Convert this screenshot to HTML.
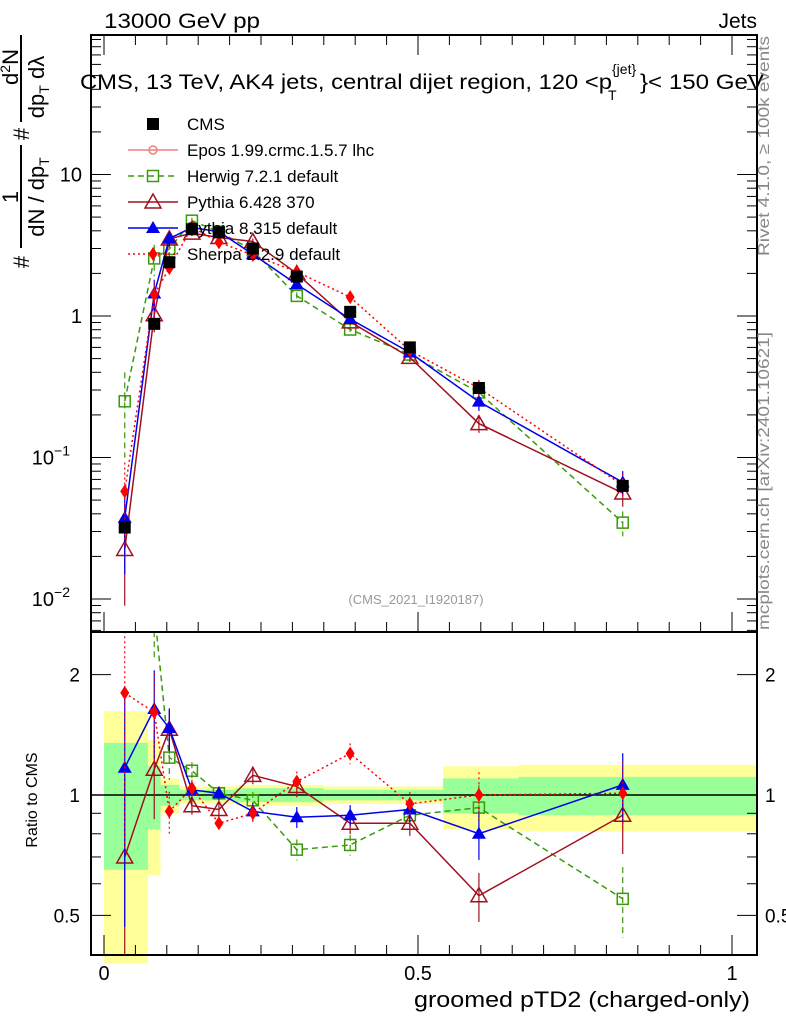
<!DOCTYPE html>
<html><head><meta charset="utf-8"><style>
body{margin:0;background:#fff}
svg{display:block;font-family:"Liberation Sans",sans-serif}
</style></head><body>
<svg id="c" width="786" height="1024" xmlns="http://www.w3.org/2000/svg">
<rect width="786" height="1024" fill="#fff"/>
<g id="bands"></g>
<g id="grid"></g>
<g id="series"></g>
<g id="axes"></g>
<text x="104" y="28" font-size="21" textLength="156" lengthAdjust="spacingAndGlyphs">13000 GeV pp</text>
<text x="757" y="28" font-size="21" text-anchor="end">Jets</text>
<g font-size="21">
<text x="80" y="89" textLength="532" lengthAdjust="spacingAndGlyphs">CMS, 13 TeV, AK4 jets, central dijet region, 120 &lt;p</text>
<text x="608" y="100" font-size="14">T</text>
<text x="612" y="74" font-size="14">{jet}</text>
<text x="640" y="89" textLength="124" lengthAdjust="spacingAndGlyphs">}&lt; 150 GeV</text>
</g>
<text x="416" y="604" font-size="13" fill="#999" text-anchor="middle">(CMS_2021_I1920187)</text>
<text transform="translate(769,256) rotate(-90)" font-size="16" fill="#888" textLength="220" lengthAdjust="spacingAndGlyphs">Rivet 4.1.0, ≥ 100k events</text>
<text transform="translate(769,630) rotate(-90)" font-size="16" fill="#888" textLength="298" lengthAdjust="spacingAndGlyphs">mcplots.cern.ch [arXiv:2401.10621]</text>
<text x="750" y="1007" font-size="22" text-anchor="end" textLength="336" lengthAdjust="spacingAndGlyphs">groomed pTD2 (charged-only)</text>
<text transform="translate(37,800) rotate(-90)" font-size="16" text-anchor="middle">Ratio to CMS</text>
<g font-size="22">
<line x1="21" y1="35" x2="21" y2="122" stroke="#000" stroke-width="2"/>
<line x1="21" y1="145" x2="21" y2="248" stroke="#000" stroke-width="2"/>
<text transform="translate(29,262) rotate(-90)" text-anchor="middle">#</text>
<text transform="translate(29,134) rotate(-90)" text-anchor="middle">#</text>
<text transform="translate(18,197) rotate(-90)" text-anchor="middle">1</text>
<text transform="translate(44,197) rotate(-90)" text-anchor="middle">dN / dp<tspan font-size="14" dy="5">T</tspan></text>
<text transform="translate(18,67) rotate(-90)" text-anchor="middle">d<tspan font-size="14" dy="-8">2</tspan><tspan dy="8">N</tspan></text>
<text transform="translate(44,87) rotate(-90)" text-anchor="middle">dp<tspan font-size="14" dy="5">T</tspan><tspan dy="-5">  dλ</tspan></text>
</g>
<g id="legend"></g>
</svg>
<script>
const binCenters=[0.033,0.080,0.104,0.140,0.183,0.237,0.307,0.392,0.487,0.597,0.826];
const binEdges=[0,0.07,0.09,0.12,0.16,0.21,0.27,0.35,0.44,0.54,0.66,1.04];
const cmsValues=[0.032,0.88,2.4,4.1,3.9,3.0,1.9,1.07,0.60,0.31,0.063];
const yellowBand=[0.62,0.37,0.10,0.05,0.05,0.06,0.06,0.05,0.05,0.18,0.19];
const greenBand=[0.35,0.18,0.06,0.03,0.03,0.04,0.04,0.03,0.03,0.10,0.11];
const herwigRatio=[7.8,2.9,1.24,1.15,1.01,0.97,0.73,0.75,0.89,0.93,0.55];
const pythia6Ratio=[0.70,1.16,1.46,0.94,0.92,1.12,1.05,0.85,0.85,0.56,0.89];
const pythia8Ratio=[1.17,1.64,1.47,1.03,1.01,0.91,0.88,0.89,0.92,0.80,1.06];
const sherpaRatio=[1.80,1.61,0.91,1.04,0.85,0.90,1.08,1.27,0.95,1.00,1.01];
const relErr=[0.6,0.25,0.12,0.05,0.04,0.05,0.06,0.06,0.07,0.14,0.2];
const mainTicks=[{v:10,l:"10"},{v:1,l:"1"},{v:0.1,l:"10",e:"−1"},{v:0.01,l:"10",e:"−2"}];
const ratioTicks=[0.5,1,2];
const xTicks=[0,0.5,1];

const NS="http://www.w3.org/2000/svg";
const L=91,R=757,T=35,M=632,B=955;
const xs=v=>104+628*v;
const ym=v=>316-141.5*Math.log10(v);
const yr=v=>795-400*Math.log10(v);
function el(tag,attrs,parent){const e=document.createElementNS(NS,tag);for(const k in attrs)e.setAttribute(k,attrs[k]);parent.appendChild(e);return e;}
const g=id=>document.getElementById(id);
const clipMain="url(#cm)",clipRatio="url(#cr)";
const defs=el("defs",{},g("c"));
el("rect",{x:L,y:T,width:R-L,height:M-T},el("clipPath",{id:"cm"},defs));
el("rect",{x:L,y:M,width:R-L,height:B-M},el("clipPath",{id:"cr"},defs));

binCenters.forEach((c,i)=>{
  const x0=xs(binEdges[i]),x1=Math.min(xs(binEdges[i+1]),R);
  const y=el("rect",{x:x0,y:yr(1+yellowBand[i]),width:x1-x0,height:yr(Math.max(1-yellowBand[i],0.3))-yr(1+yellowBand[i]),fill:"#ffff99"},g("bands"));
  
  
  const gr=el("rect",{x:x0,y:yr(1+greenBand[i]),width:x1-x0,height:yr(1-greenBand[i])-yr(1+greenBand[i]),fill:"#99ff99"},g("bands"));
  
  
});
el("line",{x1:L,y1:yr(1),x2:R,y2:yr(1),stroke:"#000","stroke-width":1.5},g("grid"));

const ax=g("axes");
el("rect",{x:L,y:T,width:R-L,height:M-T,fill:"none",stroke:"#000","stroke-width":2},ax);
el("rect",{x:L,y:M,width:R-L,height:B-M,fill:"none",stroke:"#000","stroke-width":2},ax);
for(let d=-3;d<=2;d++)for(let m=1;m<10;m++){const v=m*Math.pow(10,d);const y=ym(v);if(y<T||y>M)continue;const len=m==1?20:10;
  el("line",{x1:L,y1:y,x2:L+len,y2:y,stroke:"#000"},ax);el("line",{x1:R,y1:y,x2:R-len,y2:y,stroke:"#000"},ax);}
mainTicks.forEach(t=>{const tx=el("text",{x:82,y:ym(t.v)+7,"font-size":20,"text-anchor":"end"},ax);tx.textContent=t.l;
  
  
  if(t.e){tx.setAttribute("x",70);const s=el("tspan",{"font-size":14,dy:-9},tx);s.textContent=t.e;}});
[0.5,0.6,0.7,0.8,0.9,1,2].forEach(v=>{const y=yr(v);const len=(v==1||v==0.5||v==2)?20:10;
  el("line",{x1:L,y1:y,x2:L+len,y2:y,stroke:"#000"},ax);el("line",{x1:R,y1:y,x2:R-len,y2:y,stroke:"#000"},ax);});
ratioTicks.forEach(v=>{[[80,"end"],[765,"start"]].forEach(([x,a])=>{const t=el("text",{x:x,y:yr(v)+7,"font-size":19,"text-anchor":a},ax);t.textContent=v;
  
  });});
for(let i=0;i<=20;i++){const v=i*0.05;const x=xs(v);const len=i%10==0?20:10;
  el("line",{x1:x,y1:B,x2:x,y2:B-len,stroke:"#000"},ax);el("line",{x1:x,y1:T,x2:x,y2:T+len,stroke:"#000"},ax);el("line",{x1:x,y1:M,x2:x,y2:M-len,stroke:"#000"},ax);}
xTicks.forEach(v=>{const t=el("text",{x:xs(v),y:980,"font-size":20,"text-anchor":"middle"},ax);t.textContent=v;
  
  });

function marker(type,color,x,y,p){
  if(type=="sq") return el("rect",{x:x-5.5,y:y-5.5,width:11,height:11,fill:"none",stroke:color,"stroke-width":1.5},p);
  if(type=="fsq") return el("rect",{x:x-6,y:y-6,width:12,height:12,fill:color},p);
  if(type=="tri") return el("polygon",{points:`${x},${y-8} ${x-8},${y+6} ${x+8},${y+6}`,fill:"none",stroke:color,"stroke-width":1.5},p);
  if(type=="ftri") return el("polygon",{points:`${x},${y-7} ${x-7},${y+5} ${x+7},${y+5}`,fill:color},p);
  if(type=="dia") return el("polygon",{points:`${x},${y-7} ${x-4.5},${y} ${x},${y+7} ${x+4.5},${y}`,fill:color},p);
}
const series=[
 {name:"herwig",r:herwigRatio,c:"#3a9a0a",m:"sq",dash:"6,4"},
 {name:"pythia6",r:pythia6Ratio,c:"#a01020",m:"tri",dash:""},
 {name:"pythia8",r:pythia8Ratio,c:"#0000ee",m:"ftri",dash:""},
 {name:"sherpa",r:sherpaRatio,c:"#ff0000",m:"dia",dash:"2,3"}];
const sg=g("series");
series.forEach(s=>{
  const gm=el("g",{"clip-path":clipMain},sg);
  
  
  const gr=el("g",{"clip-path":clipRatio},sg);
  
  
  const pm=binCenters.map((c,i)=>xs(c)+","+ym(cmsValues[i]*s.r[i])).join(" ");
  const pr=binCenters.map((c,i)=>xs(c)+","+yr(s.r[i])).join(" ");
  el("polyline",{points:pm,fill:"none",stroke:s.c,"stroke-width":1.5,"stroke-dasharray":s.dash},gm);
  el("polyline",{points:pr,fill:"none",stroke:s.c,"stroke-width":1.5,"stroke-dasharray":s.dash},gr);
  binCenters.forEach((c,i)=>{
    const v=cmsValues[i]*s.r[i],e=relErr[i];
    el("line",{x1:xs(c),y1:ym(v*(1+e)),x2:xs(c),y2:ym(Math.max(v*(1-e),1e-4)),stroke:s.c,"stroke-width":1.2,"stroke-dasharray":s.dash},gm);
    el("line",{x1:xs(c),y1:yr(s.r[i]*(1+e)),x2:xs(c),y2:yr(Math.max(s.r[i]*(1-e),0.2)),stroke:s.c,"stroke-width":1.2,"stroke-dasharray":s.dash},gr);
    const a=marker(s.m,s.c,xs(c),ym(v),gm);
    
    
    const b=marker(s.m,s.c,xs(c),yr(s.r[i]),gr);
    
    
  });
});
const gc=el("g",{"clip-path":clipMain},sg);


binCenters.forEach((c,i)=>{const m=marker("fsq","#000",xs(c),ym(cmsValues[i]),gc);
  
  });

const lg=g("legend");
const entries=[["CMS","#000","fsq",null],["Epos 1.99.crmc.1.5.7 lhc","#f08080","epos",""],["Herwig 7.2.1 default","#3a9a0a","sq","6,4"],["Pythia 6.428 370","#a01020","tri",""],["Pythia 8.315 default","#0000ee","ftri",""],["Sherpa 2.2.9 default","#ff0000","dia","2,3"]];
entries.forEach((e,i)=>{const y=124+26*i;const gi=el("g",{},lg);
  
  
  if(e[3]!==null)el("line",{x1:128,y1:y,x2:178,y2:y,stroke:e[1],"stroke-width":1.5,"stroke-dasharray":e[3]},gi);
  if(e[2]=="epos")el("circle",{cx:153,cy:y,r:4,fill:"none",stroke:e[1],"stroke-width":1.5},gi);else marker(e[2],e[1],153,y,gi);
  const t=el("text",{x:187,y:y+6,"font-size":17},gi);t.textContent=e[0];});
</script>
</body></html>
